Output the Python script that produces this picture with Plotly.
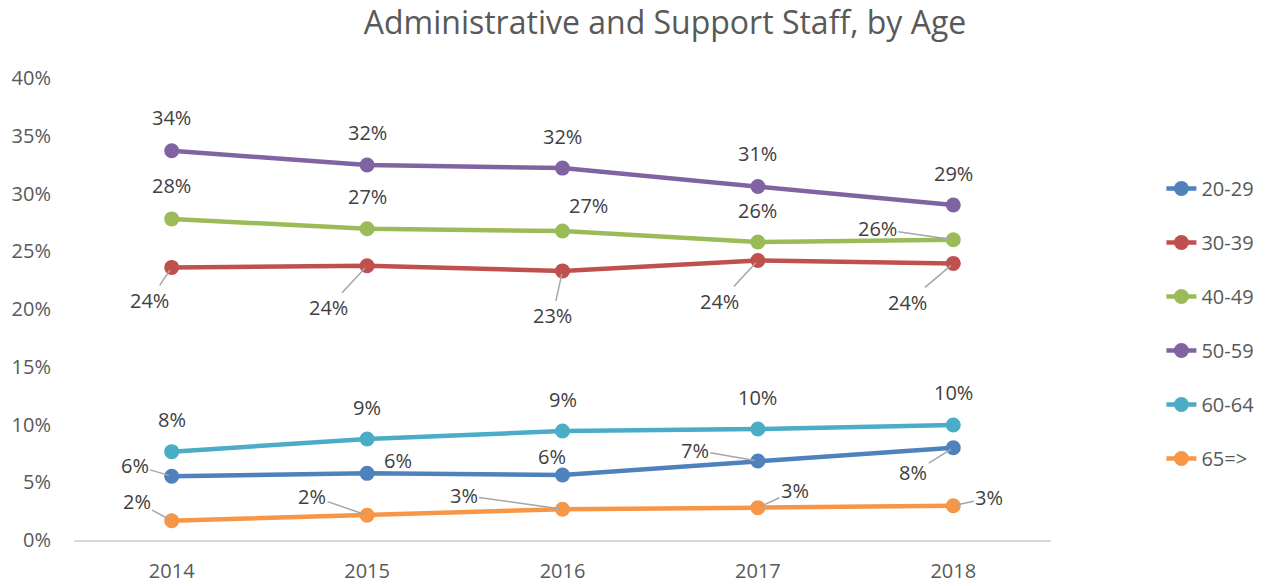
import plotly.graph_objects as go

# ---- data ----
years = ["2014", "2015", "2016", "2017", "2018"]
series_names = ["20-29", "30-39", "40-49", "50-59", "60-64", "65=>"]
age_20_29 = [0.0552, 0.0577, 0.0563, 0.0684, 0.0799]
age_30_39 = [0.2360, 0.2375, 0.2330, 0.2420, 0.2395]
age_40_49 = [0.2780, 0.2695, 0.2675, 0.2580, 0.2600]
age_50_59 = [0.3370, 0.3247, 0.3220, 0.3060, 0.2900]
age_60_64 = [0.0765, 0.0874, 0.0944, 0.0961, 0.0996]
age_65_up = [0.0167, 0.0214, 0.0266, 0.0280, 0.0297]
y_ticks = [0, 0.05, 0.10, 0.15, 0.20, 0.25, 0.30, 0.35, 0.40]

values = [age_20_29, age_30_39, age_40_49, age_50_59, age_60_64, age_65_up]

# ---- styles ----
colors = ["#4F81BD", "#C0504D", "#9BBB59", "#8064A2", "#4BACC6", "#F79646"]
FONT = "Open Sans"
# label offsets in pixels (dx, dy with dy positive downward), leader flag
label_offsets = {
    "20-29": [(-37, -11, True), (31, -13, False), (-11, -18, False), (-63, -11, True), (-40, 25, True)],
    "30-39": [(-22, 33, True), (-39, 42, True), (-10, 45, True), (-38, 41, True), (-46, 39, True)],
    "40-49": [(0, -33, False), (0, -32, False), (26, -26, False), (0, -32, False), (-76, -11, True)],
    "50-59": [(0, -33, False), (0, -32, False), (0, -32, False), (0, -33, False), (0, -32, False)],
    "60-64": [(0, -32, False), (0, -32, False), (0, -31, False), (0, -32, False), (0, -32, False)],
    "65=>": [(-35, -19, True), (-55, -19, True), (-99, -14, True), (37, -17, True), (36, -8, True)],
}

fig = go.Figure()
annotations = []
for name, vals, col in zip(series_names, values, colors):
    fig.add_trace(go.Scatter(
        x=years, y=vals, name=name, mode="lines+markers",
        line=dict(color=col, width=4.5),
        marker=dict(color=col, size=15),
        legendgroup=name,
    ))
    for i, (yv, (dx, dy, leader)) in enumerate(zip(vals, label_offsets[name])):
        txt = f"{round(yv * 100)}%"
        if leader:
            annotations.append(dict(
                x=i, y=yv, xref="x", yref="y", text=txt,
                showarrow=True, arrowhead=0, arrowwidth=1.5, arrowcolor="#A6A6A6",
                ax=dx, ay=dy, standoff=3,
                font=dict(family=FONT, size=20, color="#404040"),
            ))
        else:
            annotations.append(dict(
                x=i, y=yv, xref="x", yref="y", text=txt,
                showarrow=False, xshift=dx, yshift=-dy,
                font=dict(family=FONT, size=20, color="#404040"),
            ))

W, H = 1284, 586
fig.update_layout(
    width=W, height=H,
    margin=dict(l=74, r=233, t=78, b=46),
    paper_bgcolor="white", plot_bgcolor="white",
    title=dict(text="Administrative and Support Staff, by Age",
               x=665 / W, xanchor="center", y=1 - 23 / H, yanchor="middle",
               font=dict(family=FONT, size=32, color="#595959")),
    xaxis=dict(type="category", range=[-0.5, 4.5], showgrid=False, zeroline=False,
               showline=True, linecolor="#D9D9D9", linewidth=1.5, ticks="",
               tickfont=dict(family=FONT, size=20, color="#595959"),
               ticklabelstandoff=12, automargin=False),
    yaxis=dict(range=[0, 0.40], tickvals=y_ticks, tickformat=".0%", showgrid=False,
               zeroline=False, showline=False, ticks="",
               tickfont=dict(family=FONT, size=20, color="#595959"),
               ticklabelstandoff=22, automargin=False),
    legend=dict(x=1.113, xanchor="left", y=0.4685, yanchor="middle",
                font=dict(family=FONT, size=20, color="#595959"),
                tracegroupgap=25),
    annotations=annotations,
    showlegend=True,
)

# remove the default 8px page margin so the figure fills the window exactly
fig.write_html("out.html", config={"displayModeBar": False},
               post_script="document.body.style.margin='0';")
